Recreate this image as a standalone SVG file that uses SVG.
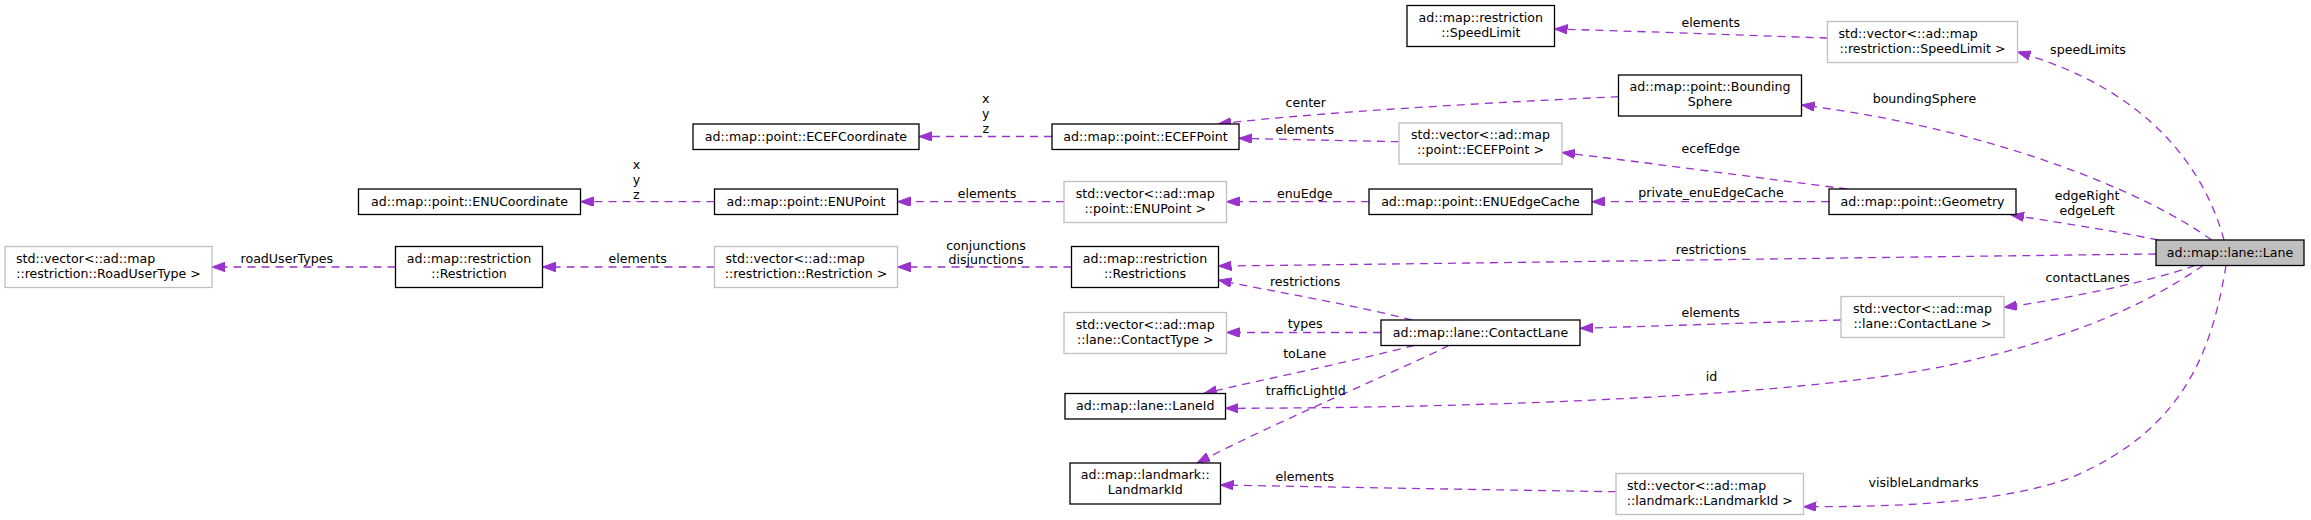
<svg xmlns="http://www.w3.org/2000/svg" width="2311" height="520" viewBox="0 0 2311 520">
<style>
.bg{fill:#ffffff}
.n rect{fill:#ffffff;stroke:#000000;stroke-width:1.3}
.v rect{fill:#ffffff;stroke:#bfbfbf;stroke-width:1.3}
.r rect{fill:#bfbfbf;stroke:#000000;stroke-width:1.3}
text{font-family:"DejaVu Sans","Liberation Sans",sans-serif;font-size:12.6px;fill:#000000}
.m{text-anchor:middle}
.s{text-anchor:start}
#edges path{fill:none;stroke:#9a32cd;stroke-width:1.3;stroke-dasharray:8,6;marker-end:url(#ah)}
</style>
<defs>
<marker id="ah" markerUnits="userSpaceOnUse" markerWidth="14" markerHeight="10" refX="13" refY="4.7" orient="auto" viewBox="0 0 14 10">
<path d="M0,0 L13,4.7 L0,9.4 Z" fill="#9a32cd" stroke="#9a32cd" stroke-width="1"/>
</marker>
</defs>
<rect class="bg" x="0" y="0" width="2311" height="520"/>

<g id="edges">
<path d="M1827.5,38 C1740,35 1630,31 1554.5,29"/>
<path d="M2224,240 C2205,170 2150,90 2017.5,52"/>
<path d="M2211.5,240 C2150,195 2000,130 1801.5,105"/>
<path d="M1847,189 C1760,178 1650,163 1562,152.5"/>
<path d="M1829,201.7 L1592,201.7"/>
<path d="M2158,240 C2110,230 2050,221 2011,215"/>
<path d="M2156,254 C1900,257 1500,263 1218.5,266"/>
<path d="M2195,265.5 C2150,282 2060,300 2004,307.3"/>
<path d="M1841,320 C1760,322.5 1660,326 1580,328.3"/>
<path d="M2203,265.5 C2160,295 2090,335 1950,365 S1500,408 1225.5,408.3"/>
<path d="M2226,265.5 C2212,350 2185,430 2070,478 C2000,503 1900,507 1803.5,506.7"/>
<path d="M1616,491.7 C1500,490 1330,487 1220.5,485"/>
<path d="M1412,320 C1350,304 1280,293 1218.5,280"/>
<path d="M1381,332.5 L1226.5,332.5"/>
<path d="M1414,345.5 C1350,362 1260,380 1204,393.5"/>
<path d="M1449,345.5 C1400,370 1280,420 1197,463"/>
<path d="M1052,136.5 L919,136.5"/>
<path d="M1618.5,96.7 C1500,102 1320,112 1218,124"/>
<path d="M1399,141.7 C1340,140.5 1290,139.5 1239,138.3"/>
<path d="M1064,201.7 L897.5,201.7"/>
<path d="M1369,201.7 L1226.5,201.7"/>
<path d="M714.5,201.7 L580.5,201.7"/>
<path d="M714.5,267 L542.5,267"/>
<path d="M1071.5,267 L897.5,267"/>
<path d="M395.5,267 L212,267"/>
<text class="m" x="1710.8" y="26.7">elements</text>
<text class="m" x="2088" y="53.5">speedLimits</text>
<text class="m" x="1924.4" y="103.3">boundingSphere</text>
<text class="m" x="1710.8" y="153.3">ecefEdge</text>
<text class="m" x="1711" y="197.3">private_enuEdgeCache</text>
<text class="m" x="2087" y="200">edgeRight</text>
<text class="m" x="2087" y="214.5">edgeLeft</text>
<text class="m" x="1711" y="254">restrictions</text>
<text class="m" x="2087.7" y="282">contactLanes</text>
<text class="m" x="1710.7" y="316.7">elements</text>
<text class="m" x="1711.4" y="380.7">id</text>
<text class="m" x="1923.5" y="486.7">visibleLandmarks</text>
<text class="m" x="1304.8" y="480.7">elements</text>
<text class="m" x="1305.2" y="286">restrictions</text>
<text class="m" x="1305.2" y="328.3">types</text>
<text class="m" x="1304.7" y="358.3">toLane</text>
<text class="m" x="1305.8" y="395.3">trafficLightId</text>
<text class="m" x="1305.8" y="106.7">center</text>
<text class="m" x="1304.8" y="134">elements</text>
<text class="m" x="987" y="198.3">elements</text>
<text class="m" x="1304.8" y="198.3">enuEdge</text>
<text class="m" x="985.7" y="103.3">x</text>
<text class="m" x="985.7" y="118.3">y</text>
<text class="m" x="985.7" y="133.3">z</text>
<text class="m" x="636.4" y="169.3">x</text>
<text class="m" x="636.4" y="184.3">y</text>
<text class="m" x="636.4" y="199.3">z</text>
<text class="m" x="986" y="249.5">conjunctions</text>
<text class="m" x="986" y="264">disjunctions</text>
<text class="m" x="637.7" y="263">elements</text>
<text class="m" x="286.8" y="263">roadUserTypes</text>
</g>

<g id="node-roadusertype-vector" class="v"><rect x="5" y="246.5" width="207" height="41"/><text class="s" x="16" y="262.5">std::vector&lt;::ad::map</text><text class="m" x="108.5" y="277.5">::restriction::RoadUserType &gt;</text></g>
<g id="node-restriction" class="n"><rect x="395.5" y="246.5" width="147" height="41"/><text class="m" x="469" y="262.5">ad::map::restriction</text><text class="m" x="469" y="277.5">::Restriction</text></g>
<g id="node-enucoordinate" class="n"><rect x="358.5" y="189" width="222" height="25.5"/><text class="m" x="469.5" y="205.5">ad::map::point::ENUCoordinate</text></g>
<g id="node-ecefcoordinate" class="n"><rect x="693" y="124" width="226" height="25.5"/><text class="m" x="806" y="140.5">ad::map::point::ECEFCoordinate</text></g>
<g id="node-ecefpoint" class="n"><rect x="1052" y="124" width="187" height="25.5"/><text class="m" x="1145.5" y="140.5">ad::map::point::ECEFPoint</text></g>
<g id="node-enupoint" class="n"><rect x="714.5" y="189" width="183" height="25.5"/><text class="m" x="806" y="205.5">ad::map::point::ENUPoint</text></g>
<g id="node-enupoint-vector" class="v"><rect x="1064" y="181.5" width="162.5" height="41"/><text class="m" x="1145.25" y="197.5">std::vector&lt;::ad::map</text><text class="m" x="1145.25" y="212.5">::point::ENUPoint &gt;</text></g>
<g id="node-restriction-vector" class="v"><rect x="714.5" y="246.5" width="183" height="41"/><text class="s" x="725.5" y="262.5">std::vector&lt;::ad::map</text><text class="m" x="806" y="277.5">::restriction::Restriction &gt;</text></g>
<g id="node-restrictions" class="n"><rect x="1071.5" y="246.5" width="147" height="41"/><text class="m" x="1145" y="262.5">ad::map::restriction</text><text class="m" x="1145" y="277.5">::Restrictions</text></g>
<g id="node-contacttype-vector" class="v"><rect x="1064" y="312.5" width="162.5" height="41"/><text class="m" x="1145.25" y="328.5">std::vector&lt;::ad::map</text><text class="m" x="1145.25" y="343.5">::lane::ContactType &gt;</text></g>
<g id="node-laneid" class="n"><rect x="1065" y="393.5" width="160.5" height="25.5"/><text class="m" x="1145.25" y="410">ad::map::lane::LaneId</text></g>
<g id="node-landmarkid" class="n"><rect x="1070" y="463" width="150.5" height="41"/><text class="m" x="1145.25" y="479">ad::map::landmark::</text><text class="m" x="1145.25" y="494">LandmarkId</text></g>
<g id="node-speedlimit" class="n"><rect x="1407" y="5.5" width="147.5" height="41"/><text class="m" x="1480.75" y="21.5">ad::map::restriction</text><text class="m" x="1480.75" y="36.5">::SpeedLimit</text></g>
<g id="node-boundingsphere" class="n"><rect x="1618.5" y="75" width="183" height="41"/><text class="m" x="1710" y="91">ad::map::point::Bounding</text><text class="m" x="1710" y="106">Sphere</text></g>
<g id="node-ecefpoint-vector" class="v"><rect x="1399" y="123" width="163" height="41"/><text class="m" x="1480.5" y="139">std::vector&lt;::ad::map</text><text class="m" x="1480.5" y="154">::point::ECEFPoint &gt;</text></g>
<g id="node-enuedgecache" class="n"><rect x="1369" y="189" width="223" height="25.5"/><text class="m" x="1480.5" y="205.5">ad::map::point::ENUEdgeCache</text></g>
<g id="node-contactlane" class="n"><rect x="1381" y="320" width="199" height="25.5"/><text class="m" x="1480.5" y="336.5">ad::map::lane::ContactLane</text></g>
<g id="node-landmarkid-vector" class="v"><rect x="1616" y="473.5" width="187.5" height="41"/><text class="s" x="1627" y="489.5">std::vector&lt;::ad::map</text><text class="m" x="1709.75" y="504.5">::landmark::LandmarkId &gt;</text></g>
<g id="node-speedlimit-vector" class="v"><rect x="1827.5" y="21.5" width="190" height="41"/><text class="s" x="1838.5" y="37.5">std::vector&lt;::ad::map</text><text class="m" x="1922.5" y="52.5">::restriction::SpeedLimit &gt;</text></g>
<g id="node-geometry" class="n"><rect x="1829" y="189" width="187" height="25.5"/><text class="m" x="1922.5" y="205.5">ad::map::point::Geometry</text></g>
<g id="node-lane" class="r"><rect x="2156" y="240" width="148" height="25.5"/><text class="m" x="2230" y="256.5">ad::map::lane::Lane</text></g>
<g id="node-contactlane-vector" class="v"><rect x="1841" y="296.5" width="163" height="41"/><text class="m" x="1922.5" y="312.5">std::vector&lt;::ad::map</text><text class="m" x="1922.5" y="327.5">::lane::ContactLane &gt;</text></g>
</svg>
